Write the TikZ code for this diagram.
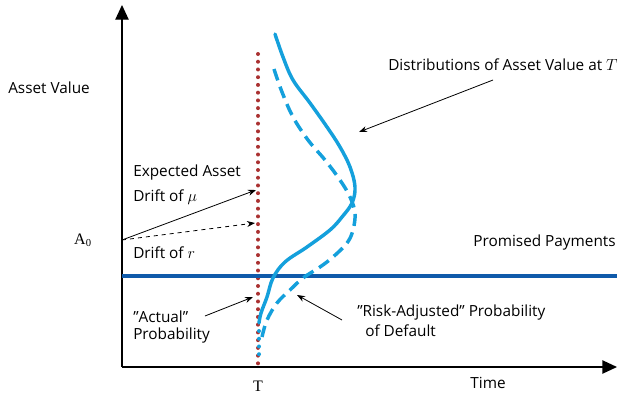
\documentclass[tikz,border=0pt]{standalone}
\usepackage{fontspec}
\setmainfont{Open Sans}
\newfontfamily\serifA{Liberation Serif}
\usetikzlibrary{positioning,calc,arrows.meta}

\definecolor{distblue}{RGB}{20,160,220}
\definecolor{paydblue}{RGB}{15,90,170}
\definecolor{dotred}{RGB}{170,50,50}

\newcommand{\qq}{{\char34}}

\tikzset{
  lbl/.style={anchor=west, inner sep=0pt, font=\fontsize{11.5}{13}\selectfont},
  axisline/.style={line width=1pt, -{Triangle[length=11pt,width=10pt]}},
  pointer/.style={line width=0.6pt, -{Stealth[length=6pt,width=4.5pt]}},
  distcurve/.style={distblue, line width=2.6pt},
  dotline/.style={line width=3pt, dash pattern=on 0pt off 5.8pt, line cap=round}
}

\begin{document}
\begin{tikzpicture}[x=0.75pt, y=-0.75pt]
    \useasboundingbox (0,0) rectangle (618,397);

    % axes
    \coordinate (origin) at (122,367);
    \coordinate (ytip) at (122,5);
    \coordinate (xtip) at (617,367);
    \draw[axisline] (origin) -- (ytip);
    \draw[axisline] (origin) -- (xtip);

    % horizon T and promised payments
    \coordinate (ttop) at (258,54);
    \coordinate (tbot) at (258,366);
    \draw[dotred, dotline] (ttop) -- (tbot);
    \coordinate (payl) at (122,276);
    \coordinate (payr) at (617,276);
    \draw[paydblue, line width=3pt] (payl) -- (payr);

    % distributions at T
    \draw[distcurve, line cap=round] plot[smooth, tension=0.6] coordinates
        {(275,34) (283,57) (293,80) (310,103) (327,127) (340,147) (350,167) (355,187) (352,203)
         (342,217) (330,230) (307,247) (285,262) (273,278) (267,297) (261,313) (259,323)};
    \draw[distcurve, dash pattern=on 9pt off 5pt] plot[smooth, tension=0.6] coordinates
        {(274,69) (282,92) (293,117) (308,140) (325,160) (340,180) (350,197) (355,213) (353,230)
         (347,243) (333,257) (320,267) (303,278) (290,290) (277,303) (267,320) (262,337)};
    \draw[distblue, dotline] (259,331) -- (259,356);

    % labels
    \node[lbl] (assetval) at (8,88) {Asset Value};
    \node[inner sep=0pt, font=\serifA\fontsize{12}{14}\selectfont] (a0) at (83,240) {A\textsubscript{0}};
    \node[inner sep=0pt, font=\serifA\fontsize{12}{14}\selectfont] (tlab) at (258,386) {T};
    \node[inner sep=0pt, font=\fontsize{11.5}{13}\selectfont] (time) at (488,383) {Time};
    \node[lbl] (expasset) at (133,173) {Expected Asset};
    \node[lbl] (driftmu) at (133,197) {Drift of $\mu$};
    \node[lbl] (driftr) at (133,253) {Drift of $r$};
    \node[lbl, anchor=east] (promised) at (616,243) {Promised Payments};
    \node[lbl] (distlab) at (388,65) {Distributions of Asset Value at $T$};
    \node[lbl] (actual) at (133,317) {\qq Actual\qq};
    \node[lbl] (actprob) at (133,336) {Probability};
    \node[lbl] (riskadj) at (357,313) {\qq Risk-Adjusted\qq\ Probability};
    \node[lbl] (default) at (365,331) {of Default};

    % drifts
    \coordinate (a0pt) at (122,240);
    \coordinate (muend) at (256,190);
    \coordinate (rend) at (255,223);
    \draw[pointer] (a0pt) -- (muend);
    \draw[pointer, dashed] (a0pt) -- (rend);

    % pointers to the curves
    \coordinate (actstart) at (205,316);
    \coordinate (actend) at (253,297);
    \coordinate (riskstart) at (342,320);
    \coordinate (riskend) at (297,295);
    \coordinate (diststart) at (493,80);
    \coordinate (distend) at (359,132);
    \draw[pointer] (actstart) -- (actend);
    \draw[pointer] (riskstart) -- (riskend);
    \draw[pointer] (diststart) -- (distend);
\end{tikzpicture}
\end{document}
